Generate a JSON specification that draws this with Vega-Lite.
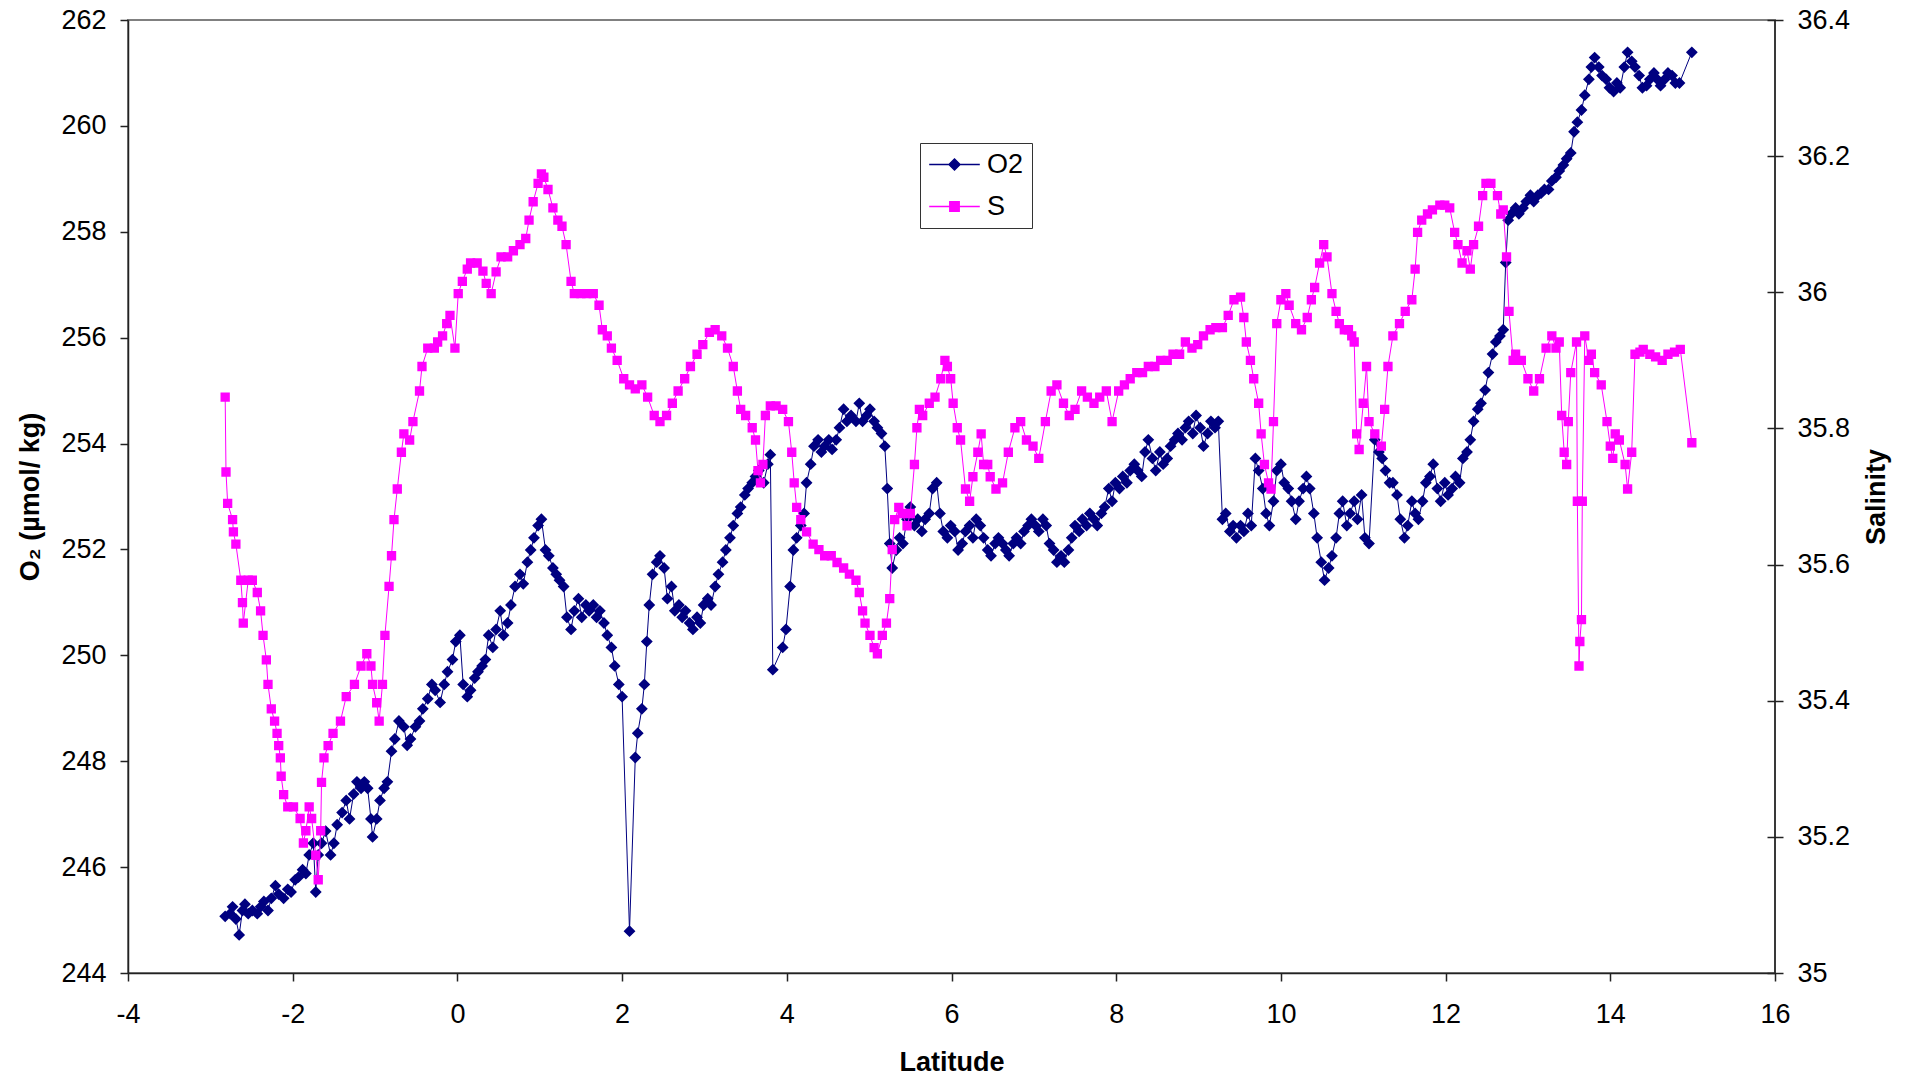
{
"$schema": "https://vega.github.io/schema/vega-lite/v6.json",
"width": 1647, "height": 953,
"autosize": {"type": "none"},
"padding": {"left": 128, "top": 20, "right": 141, "bottom": 107},
"background": "white",
"config": {
 "font": "Liberation Sans",
 "view": {"stroke": "#808080", "strokeWidth": 2},
 "axis": {"domainColor": "#222", "domainWidth": 1.5, "tickColor": "#222", "tickWidth": 1.5, "tickSize": 8, "labelFontSize": 27, "labelColor": "#000", "titleFontSize": 27, "titleFontWeight": "bold", "titleColor": "#000", "grid": false, "labelFont": "Liberation Sans", "titleFont": "Liberation Sans", "labelOverlap": false, "labelFlush": false},
 "legend": {"orient": "none", "legendX": 792, "legendY": 123, "direction": "vertical", "labelFontSize": 27, "labelFont": "Liberation Sans", "labelColor": "#000", "symbolSize": 121, "symbolOffset": 13, "labelOffset": 19, "rowPadding": 14, "padding": 8, "strokeColor": "#333", "fillColor": "#ffffff", "symbolOpacity": 1, "symbolStrokeWidth": 1.5}
},
"datasets": {
"o2": [
{"lat":-2.82,"v":245.07},{"lat":-2.76,"v":245.12},{"lat":-2.73,"v":245.25},{"lat":-2.69,"v":245.02},{"lat":-2.65,"v":244.72},{"lat":-2.61,"v":245.18},{"lat":-2.58,"v":245.30},{"lat":-2.54,"v":245.12},{"lat":-2.49,"v":245.18},{"lat":-2.43,"v":245.12},{"lat":-2.39,"v":245.25},{"lat":-2.35,"v":245.35},{"lat":-2.30,"v":245.18},{"lat":-2.26,"v":245.41},{"lat":-2.21,"v":245.65},{"lat":-2.17,"v":245.49},{"lat":-2.11,"v":245.41},{"lat":-2.06,"v":245.58},{"lat":-2.02,"v":245.53},{"lat":-1.97,"v":245.76},{"lat":-1.93,"v":245.81},{"lat":-1.88,"v":245.95},{"lat":-1.84,"v":245.88},{"lat":-1.80,"v":246.23},{"lat":-1.75,"v":246.45},{"lat":-1.72,"v":245.53},{"lat":-1.69,"v":246.23},{"lat":-1.65,"v":246.45},{"lat":-1.60,"v":246.68},{"lat":-1.54,"v":246.23},{"lat":-1.50,"v":246.45},{"lat":-1.46,"v":246.80},{"lat":-1.40,"v":247.03},{"lat":-1.35,"v":247.26},{"lat":-1.31,"v":246.91},{"lat":-1.26,"v":247.38},{"lat":-1.22,"v":247.61},{"lat":-1.17,"v":247.49},{"lat":-1.13,"v":247.61},{"lat":-1.09,"v":247.49},{"lat":-1.05,"v":246.91},{"lat":-1.03,"v":246.57},{"lat":-0.98,"v":246.91},{"lat":-0.94,"v":247.26},{"lat":-0.89,"v":247.49},{"lat":-0.85,"v":247.61},{"lat":-0.80,"v":248.19},{"lat":-0.76,"v":248.42},{"lat":-0.71,"v":248.76},{"lat":-0.65,"v":248.65},{"lat":-0.61,"v":248.30},{"lat":-0.57,"v":248.42},{"lat":-0.51,"v":248.65},{"lat":-0.46,"v":248.76},{"lat":-0.42,"v":248.99},{"lat":-0.36,"v":249.18},{"lat":-0.31,"v":249.45},{"lat":-0.27,"v":249.34},{"lat":-0.21,"v":249.11},{"lat":-0.16,"v":249.45},{"lat":-0.12,"v":249.69},{"lat":-0.06,"v":249.92},{"lat":-0.02,"v":250.26},{"lat":0.03,"v":250.38},{"lat":0.07,"v":249.45},{"lat":0.12,"v":249.22},{"lat":0.16,"v":249.34},{"lat":0.21,"v":249.57},{"lat":0.25,"v":249.69},{"lat":0.30,"v":249.80},{"lat":0.34,"v":249.92},{"lat":0.38,"v":250.38},{"lat":0.43,"v":250.15},{"lat":0.47,"v":250.49},{"lat":0.52,"v":250.84},{"lat":0.56,"v":250.38},{"lat":0.61,"v":250.61},{"lat":0.65,"v":250.95},{"lat":0.70,"v":251.30},{"lat":0.76,"v":251.53},{"lat":0.80,"v":251.35},{"lat":0.85,"v":251.76},{"lat":0.89,"v":251.99},{"lat":0.93,"v":252.22},{"lat":0.98,"v":252.45},{"lat":1.02,"v":252.57},{"lat":1.07,"v":251.99},{"lat":1.11,"v":251.88},{"lat":1.16,"v":251.65},{"lat":1.20,"v":251.53},{"lat":1.24,"v":251.42},{"lat":1.29,"v":251.30},{"lat":1.33,"v":250.72},{"lat":1.38,"v":250.49},{"lat":1.42,"v":250.84},{"lat":1.47,"v":251.07},{"lat":1.51,"v":250.72},{"lat":1.56,"v":250.95},{"lat":1.60,"v":250.84},{"lat":1.65,"v":250.95},{"lat":1.69,"v":250.72},{"lat":1.73,"v":250.84},{"lat":1.78,"v":250.61},{"lat":1.82,"v":250.38},{"lat":1.87,"v":250.15},{"lat":1.91,"v":249.80},{"lat":1.96,"v":249.45},{"lat":2.00,"v":249.22},{"lat":2.09,"v":244.79},{"lat":2.16,"v":248.07},{"lat":2.19,"v":248.53},{"lat":2.24,"v":248.99},{"lat":2.27,"v":249.45},{"lat":2.30,"v":250.26},{"lat":2.33,"v":250.95},{"lat":2.37,"v":251.53},{"lat":2.42,"v":251.76},{"lat":2.46,"v":251.88},{"lat":2.51,"v":251.65},{"lat":2.55,"v":251.07},{"lat":2.60,"v":251.30},{"lat":2.64,"v":250.84},{"lat":2.69,"v":250.95},{"lat":2.73,"v":250.72},{"lat":2.77,"v":250.84},{"lat":2.82,"v":250.61},{"lat":2.86,"v":250.49},{"lat":2.91,"v":250.72},{"lat":2.95,"v":250.61},{"lat":2.99,"v":250.95},{"lat":3.04,"v":251.07},{"lat":3.08,"v":250.95},{"lat":3.13,"v":251.30},{"lat":3.17,"v":251.53},{"lat":3.22,"v":251.76},{"lat":3.26,"v":251.99},{"lat":3.31,"v":252.22},{"lat":3.35,"v":252.45},{"lat":3.40,"v":252.68},{"lat":3.44,"v":252.80},{"lat":3.49,"v":253.03},{"lat":3.53,"v":253.15},{"lat":3.58,"v":253.26},{"lat":3.62,"v":253.38},{"lat":3.66,"v":253.49},{"lat":3.72,"v":253.26},{"lat":3.77,"v":253.61},{"lat":3.80,"v":253.79},{"lat":3.83,"v":249.73},{"lat":3.95,"v":250.15},{"lat":3.99,"v":250.49},{"lat":4.04,"v":251.30},{"lat":4.08,"v":251.99},{"lat":4.12,"v":252.22},{"lat":4.17,"v":252.45},{"lat":4.21,"v":252.68},{"lat":4.24,"v":253.26},{"lat":4.29,"v":253.61},{"lat":4.33,"v":253.95},{"lat":4.38,"v":254.07},{"lat":4.42,"v":253.84},{"lat":4.46,"v":253.95},{"lat":4.51,"v":254.07},{"lat":4.55,"v":253.89},{"lat":4.60,"v":254.07},{"lat":4.64,"v":254.30},{"lat":4.69,"v":254.65},{"lat":4.73,"v":254.42},{"lat":4.78,"v":254.53},{"lat":4.84,"v":254.42},{"lat":4.88,"v":254.76},{"lat":4.92,"v":254.42},{"lat":4.97,"v":254.53},{"lat":5.01,"v":254.65},{"lat":5.06,"v":254.42},{"lat":5.10,"v":254.30},{"lat":5.15,"v":254.19},{"lat":5.19,"v":253.95},{"lat":5.22,"v":253.15},{"lat":5.25,"v":252.11},{"lat":5.28,"v":251.65},{"lat":5.33,"v":251.99},{"lat":5.37,"v":252.22},{"lat":5.41,"v":252.11},{"lat":5.46,"v":252.57},{"lat":5.50,"v":252.80},{"lat":5.55,"v":252.45},{"lat":5.59,"v":252.57},{"lat":5.64,"v":252.34},{"lat":5.68,"v":252.57},{"lat":5.73,"v":252.68},{"lat":5.77,"v":253.15},{"lat":5.82,"v":253.26},{"lat":5.86,"v":252.68},{"lat":5.90,"v":252.34},{"lat":5.95,"v":252.22},{"lat":5.99,"v":252.45},{"lat":6.04,"v":252.34},{"lat":6.08,"v":251.99},{"lat":6.13,"v":252.11},{"lat":6.17,"v":252.34},{"lat":6.22,"v":252.45},{"lat":6.26,"v":252.22},{"lat":6.30,"v":252.57},{"lat":6.35,"v":252.45},{"lat":6.39,"v":252.22},{"lat":6.44,"v":251.99},{"lat":6.48,"v":251.88},{"lat":6.53,"v":252.11},{"lat":6.57,"v":252.22},{"lat":6.62,"v":252.11},{"lat":6.66,"v":251.99},{"lat":6.70,"v":251.88},{"lat":6.75,"v":252.11},{"lat":6.79,"v":252.22},{"lat":6.84,"v":252.11},{"lat":6.88,"v":252.34},{"lat":6.93,"v":252.45},{"lat":6.97,"v":252.57},{"lat":7.02,"v":252.45},{"lat":7.06,"v":252.34},{"lat":7.11,"v":252.57},{"lat":7.15,"v":252.45},{"lat":7.19,"v":252.11},{"lat":7.24,"v":251.99},{"lat":7.28,"v":251.76},{"lat":7.33,"v":251.88},{"lat":7.37,"v":251.76},{"lat":7.42,"v":251.99},{"lat":7.46,"v":252.22},{"lat":7.50,"v":252.45},{"lat":7.55,"v":252.34},{"lat":7.59,"v":252.57},{"lat":7.64,"v":252.45},{"lat":7.68,"v":252.68},{"lat":7.73,"v":252.57},{"lat":7.77,"v":252.45},{"lat":7.82,"v":252.68},{"lat":7.86,"v":252.80},{"lat":7.91,"v":253.15},{"lat":7.95,"v":252.91},{"lat":7.99,"v":253.26},{"lat":8.04,"v":253.15},{"lat":8.08,"v":253.38},{"lat":8.13,"v":253.26},{"lat":8.17,"v":253.49},{"lat":8.22,"v":253.61},{"lat":8.26,"v":253.49},{"lat":8.31,"v":253.38},{"lat":8.35,"v":253.84},{"lat":8.39,"v":254.07},{"lat":8.44,"v":253.72},{"lat":8.48,"v":253.49},{"lat":8.53,"v":253.84},{"lat":8.57,"v":253.61},{"lat":8.62,"v":253.72},{"lat":8.66,"v":253.95},{"lat":8.71,"v":254.07},{"lat":8.75,"v":254.19},{"lat":8.80,"v":254.07},{"lat":8.84,"v":254.30},{"lat":8.88,"v":254.42},{"lat":8.93,"v":254.19},{"lat":8.97,"v":254.53},{"lat":9.02,"v":254.30},{"lat":9.06,"v":253.95},{"lat":9.11,"v":254.19},{"lat":9.15,"v":254.42},{"lat":9.20,"v":254.30},{"lat":9.24,"v":254.42},{"lat":9.29,"v":252.57},{"lat":9.33,"v":252.68},{"lat":9.38,"v":252.34},{"lat":9.42,"v":252.45},{"lat":9.46,"v":252.22},{"lat":9.51,"v":252.45},{"lat":9.55,"v":252.34},{"lat":9.60,"v":252.68},{"lat":9.64,"v":252.45},{"lat":9.69,"v":253.72},{"lat":9.73,"v":253.49},{"lat":9.78,"v":253.15},{"lat":9.82,"v":252.68},{"lat":9.86,"v":252.45},{"lat":9.91,"v":252.91},{"lat":9.95,"v":253.49},{"lat":10.00,"v":253.61},{"lat":10.04,"v":253.26},{"lat":10.09,"v":253.15},{"lat":10.13,"v":252.91},{"lat":10.18,"v":252.57},{"lat":10.22,"v":252.91},{"lat":10.27,"v":253.15},{"lat":10.31,"v":253.38},{"lat":10.35,"v":253.15},{"lat":10.40,"v":252.68},{"lat":10.44,"v":252.22},{"lat":10.49,"v":251.76},{"lat":10.53,"v":251.42},{"lat":10.58,"v":251.65},{"lat":10.62,"v":251.88},{"lat":10.67,"v":252.22},{"lat":10.71,"v":252.68},{"lat":10.75,"v":252.91},{"lat":10.80,"v":252.45},{"lat":10.84,"v":252.68},{"lat":10.89,"v":252.91},{"lat":10.93,"v":252.57},{"lat":10.98,"v":253.03},{"lat":11.02,"v":252.22},{"lat":11.07,"v":252.11},{"lat":11.14,"v":254.07},{"lat":11.19,"v":253.84},{"lat":11.23,"v":253.72},{"lat":11.27,"v":253.49},{"lat":11.32,"v":253.26},{"lat":11.36,"v":253.26},{"lat":11.41,"v":253.03},{"lat":11.45,"v":252.57},{"lat":11.50,"v":252.22},{"lat":11.54,"v":252.45},{"lat":11.59,"v":252.91},{"lat":11.63,"v":252.68},{"lat":11.67,"v":252.57},{"lat":11.72,"v":252.91},{"lat":11.76,"v":253.26},{"lat":11.81,"v":253.38},{"lat":11.85,"v":253.61},{"lat":11.90,"v":253.15},{"lat":11.94,"v":252.91},{"lat":11.99,"v":253.26},{"lat":12.03,"v":253.03},{"lat":12.08,"v":253.15},{"lat":12.12,"v":253.38},{"lat":12.17,"v":253.26},{"lat":12.21,"v":253.72},{"lat":12.26,"v":253.84},{"lat":12.30,"v":254.07},{"lat":12.34,"v":254.42},{"lat":12.39,"v":254.65},{"lat":12.43,"v":254.76},{"lat":12.48,"v":255.01},{"lat":12.52,"v":255.34},{"lat":12.57,"v":255.69},{"lat":12.61,"v":255.92},{"lat":12.66,"v":256.03},{"lat":12.70,"v":256.15},{"lat":12.73,"v":257.42},{"lat":12.76,"v":258.22},{"lat":12.80,"v":258.34},{"lat":12.85,"v":258.45},{"lat":12.89,"v":258.34},{"lat":12.94,"v":258.45},{"lat":12.98,"v":258.57},{"lat":13.03,"v":258.69},{"lat":13.07,"v":258.57},{"lat":13.12,"v":258.69},{"lat":13.16,"v":258.73},{"lat":13.20,"v":258.80},{"lat":13.25,"v":258.80},{"lat":13.29,"v":258.96},{"lat":13.34,"v":259.03},{"lat":13.38,"v":259.15},{"lat":13.43,"v":259.26},{"lat":13.47,"v":259.38},{"lat":13.52,"v":259.49},{"lat":13.56,"v":259.89},{"lat":13.60,"v":260.07},{"lat":13.65,"v":260.30},{"lat":13.69,"v":260.58},{"lat":13.74,"v":260.88},{"lat":13.77,"v":261.11},{"lat":13.81,"v":261.29},{"lat":13.86,"v":261.11},{"lat":13.90,"v":260.95},{"lat":13.95,"v":260.88},{"lat":13.99,"v":260.72},{"lat":14.04,"v":260.65},{"lat":14.08,"v":260.81},{"lat":14.12,"v":260.72},{"lat":14.17,"v":261.11},{"lat":14.21,"v":261.39},{"lat":14.26,"v":261.22},{"lat":14.30,"v":261.11},{"lat":14.35,"v":260.95},{"lat":14.39,"v":260.72},{"lat":14.44,"v":260.76},{"lat":14.48,"v":260.88},{"lat":14.53,"v":261.00},{"lat":14.57,"v":260.88},{"lat":14.61,"v":260.76},{"lat":14.66,"v":260.88},{"lat":14.70,"v":261.00},{"lat":14.75,"v":260.95},{"lat":14.79,"v":260.81},{"lat":14.84,"v":260.81},{"lat":14.99,"v":261.39}
],
"sal": [
{"lat":-2.82,"v":35.846},{"lat":-2.81,"v":35.736},{"lat":-2.79,"v":35.690},{"lat":-2.73,"v":35.666},{"lat":-2.72,"v":35.648},{"lat":-2.69,"v":35.630},{"lat":-2.63,"v":35.577},{"lat":-2.61,"v":35.544},{"lat":-2.60,"v":35.514},{"lat":-2.54,"v":35.577},{"lat":-2.49,"v":35.577},{"lat":-2.43,"v":35.559},{"lat":-2.39,"v":35.532},{"lat":-2.36,"v":35.496},{"lat":-2.32,"v":35.460},{"lat":-2.30,"v":35.424},{"lat":-2.26,"v":35.388},{"lat":-2.22,"v":35.370},{"lat":-2.19,"v":35.352},{"lat":-2.17,"v":35.334},{"lat":-2.15,"v":35.316},{"lat":-2.14,"v":35.289},{"lat":-2.11,"v":35.262},{"lat":-2.06,"v":35.244},{"lat":-1.99,"v":35.244},{"lat":-1.91,"v":35.227},{"lat":-1.87,"v":35.191},{"lat":-1.84,"v":35.209},{"lat":-1.80,"v":35.244},{"lat":-1.77,"v":35.227},{"lat":-1.72,"v":35.173},{"lat":-1.69,"v":35.137},{"lat":-1.66,"v":35.209},{"lat":-1.65,"v":35.280},{"lat":-1.62,"v":35.316},{"lat":-1.57,"v":35.334},{"lat":-1.51,"v":35.352},{"lat":-1.42,"v":35.370},{"lat":-1.35,"v":35.406},{"lat":-1.25,"v":35.424},{"lat":-1.17,"v":35.451},{"lat":-1.10,"v":35.469},{"lat":-1.05,"v":35.451},{"lat":-1.03,"v":35.424},{"lat":-0.98,"v":35.397},{"lat":-0.95,"v":35.370},{"lat":-0.91,"v":35.424},{"lat":-0.88,"v":35.496},{"lat":-0.83,"v":35.568},{"lat":-0.80,"v":35.613},{"lat":-0.77,"v":35.666},{"lat":-0.73,"v":35.711},{"lat":-0.68,"v":35.765},{"lat":-0.65,"v":35.792},{"lat":-0.58,"v":35.783},{"lat":-0.54,"v":35.810},{"lat":-0.46,"v":35.855},{"lat":-0.43,"v":35.891},{"lat":-0.36,"v":35.918},{"lat":-0.28,"v":35.918},{"lat":-0.24,"v":35.927},{"lat":-0.18,"v":35.936},{"lat":-0.13,"v":35.954},{"lat":-0.09,"v":35.966},{"lat":-0.03,"v":35.918},{"lat":0.01,"v":35.998},{"lat":0.06,"v":36.016},{"lat":0.12,"v":36.034},{"lat":0.16,"v":36.043},{"lat":0.24,"v":36.043},{"lat":0.31,"v":36.031},{"lat":0.35,"v":36.013},{"lat":0.41,"v":35.998},{"lat":0.47,"v":36.030},{"lat":0.53,"v":36.052},{"lat":0.61,"v":36.052},{"lat":0.68,"v":36.061},{"lat":0.76,"v":36.070},{"lat":0.83,"v":36.079},{"lat":0.87,"v":36.106},{"lat":0.92,"v":36.133},{"lat":0.98,"v":36.160},{"lat":1.02,"v":36.174},{"lat":1.05,"v":36.169},{"lat":1.10,"v":36.151},{"lat":1.16,"v":36.124},{"lat":1.22,"v":36.106},{"lat":1.27,"v":36.097},{"lat":1.32,"v":36.070},{"lat":1.38,"v":36.016},{"lat":1.42,"v":35.998},{"lat":1.50,"v":35.998},{"lat":1.57,"v":35.998},{"lat":1.65,"v":35.998},{"lat":1.72,"v":35.981},{"lat":1.76,"v":35.945},{"lat":1.82,"v":35.936},{"lat":1.87,"v":35.918},{"lat":1.94,"v":35.900},{"lat":2.02,"v":35.873},{"lat":2.09,"v":35.864},{"lat":2.16,"v":35.858},{"lat":2.24,"v":35.864},{"lat":2.31,"v":35.846},{"lat":2.39,"v":35.819},{"lat":2.46,"v":35.810},{"lat":2.54,"v":35.819},{"lat":2.61,"v":35.837},{"lat":2.68,"v":35.855},{"lat":2.76,"v":35.873},{"lat":2.83,"v":35.891},{"lat":2.91,"v":35.909},{"lat":2.98,"v":35.923},{"lat":3.06,"v":35.941},{"lat":3.13,"v":35.945},{"lat":3.21,"v":35.936},{"lat":3.28,"v":35.918},{"lat":3.35,"v":35.891},{"lat":3.40,"v":35.855},{"lat":3.44,"v":35.828},{"lat":3.50,"v":35.819},{"lat":3.58,"v":35.801},{"lat":3.62,"v":35.783},{"lat":3.65,"v":35.738},{"lat":3.68,"v":35.720},{"lat":3.71,"v":35.747},{"lat":3.74,"v":35.819},{"lat":3.80,"v":35.833},{"lat":3.87,"v":35.833},{"lat":3.95,"v":35.828},{"lat":4.02,"v":35.810},{"lat":4.06,"v":35.765},{"lat":4.09,"v":35.720},{"lat":4.12,"v":35.684},{"lat":4.17,"v":35.666},{"lat":4.24,"v":35.648},{"lat":4.32,"v":35.630},{"lat":4.39,"v":35.622},{"lat":4.46,"v":35.613},{"lat":4.54,"v":35.613},{"lat":4.61,"v":35.603},{"lat":4.69,"v":35.595},{"lat":4.76,"v":35.586},{"lat":4.84,"v":35.577},{"lat":4.88,"v":35.559},{"lat":4.92,"v":35.532},{"lat":4.95,"v":35.514},{"lat":5.01,"v":35.496},{"lat":5.06,"v":35.478},{"lat":5.10,"v":35.469},{"lat":5.16,"v":35.496},{"lat":5.21,"v":35.514},{"lat":5.25,"v":35.550},{"lat":5.28,"v":35.622},{"lat":5.31,"v":35.666},{"lat":5.36,"v":35.684},{"lat":5.40,"v":35.675},{"lat":5.46,"v":35.657},{"lat":5.50,"v":35.675},{"lat":5.55,"v":35.747},{"lat":5.58,"v":35.801},{"lat":5.61,"v":35.828},{"lat":5.65,"v":35.819},{"lat":5.73,"v":35.837},{"lat":5.80,"v":35.846},{"lat":5.87,"v":35.873},{"lat":5.92,"v":35.900},{"lat":5.95,"v":35.891},{"lat":5.99,"v":35.873},{"lat":6.02,"v":35.837},{"lat":6.07,"v":35.801},{"lat":6.11,"v":35.783},{"lat":6.17,"v":35.711},{"lat":6.22,"v":35.693},{"lat":6.26,"v":35.729},{"lat":6.32,"v":35.765},{"lat":6.36,"v":35.792},{"lat":6.39,"v":35.747},{"lat":6.44,"v":35.747},{"lat":6.47,"v":35.729},{"lat":6.54,"v":35.711},{"lat":6.62,"v":35.720},{"lat":6.69,"v":35.765},{"lat":6.77,"v":35.801},{"lat":6.84,"v":35.810},{"lat":6.91,"v":35.783},{"lat":6.99,"v":35.774},{"lat":7.06,"v":35.756},{"lat":7.14,"v":35.810},{"lat":7.21,"v":35.855},{"lat":7.28,"v":35.864},{"lat":7.36,"v":35.837},{"lat":7.43,"v":35.819},{"lat":7.50,"v":35.828},{"lat":7.58,"v":35.855},{"lat":7.65,"v":35.846},{"lat":7.73,"v":35.837},{"lat":7.80,"v":35.846},{"lat":7.88,"v":35.855},{"lat":7.95,"v":35.810},{"lat":8.03,"v":35.855},{"lat":8.10,"v":35.864},{"lat":8.17,"v":35.873},{"lat":8.25,"v":35.882},{"lat":8.32,"v":35.882},{"lat":8.39,"v":35.891},{"lat":8.47,"v":35.891},{"lat":8.54,"v":35.900},{"lat":8.62,"v":35.900},{"lat":8.69,"v":35.909},{"lat":8.77,"v":35.909},{"lat":8.84,"v":35.927},{"lat":8.92,"v":35.918},{"lat":8.99,"v":35.923},{"lat":9.06,"v":35.936},{"lat":9.14,"v":35.945},{"lat":9.21,"v":35.948},{"lat":9.29,"v":35.948},{"lat":9.36,"v":35.966},{"lat":9.43,"v":35.989},{"lat":9.51,"v":35.993},{"lat":9.55,"v":35.963},{"lat":9.58,"v":35.927},{"lat":9.63,"v":35.900},{"lat":9.67,"v":35.873},{"lat":9.73,"v":35.837},{"lat":9.76,"v":35.792},{"lat":9.80,"v":35.747},{"lat":9.85,"v":35.720},{"lat":9.88,"v":35.711},{"lat":9.91,"v":35.810},{"lat":9.95,"v":35.954},{"lat":10.00,"v":35.989},{"lat":10.06,"v":35.998},{"lat":10.10,"v":35.981},{"lat":10.18,"v":35.954},{"lat":10.25,"v":35.945},{"lat":10.32,"v":35.963},{"lat":10.37,"v":35.989},{"lat":10.41,"v":36.007},{"lat":10.47,"v":36.043},{"lat":10.52,"v":36.070},{"lat":10.56,"v":36.052},{"lat":10.62,"v":35.998},{"lat":10.67,"v":35.972},{"lat":10.71,"v":35.954},{"lat":10.77,"v":35.945},{"lat":10.82,"v":35.945},{"lat":10.86,"v":35.936},{"lat":10.89,"v":35.927},{"lat":10.92,"v":35.792},{"lat":10.95,"v":35.769},{"lat":11.00,"v":35.837},{"lat":11.04,"v":35.891},{"lat":11.07,"v":35.810},{"lat":11.14,"v":35.792},{"lat":11.22,"v":35.774},{"lat":11.26,"v":35.828},{"lat":11.30,"v":35.891},{"lat":11.36,"v":35.936},{"lat":11.44,"v":35.954},{"lat":11.51,"v":35.972},{"lat":11.59,"v":35.989},{"lat":11.63,"v":36.034},{"lat":11.66,"v":36.088},{"lat":11.71,"v":36.106},{"lat":11.78,"v":36.115},{"lat":11.84,"v":36.121},{"lat":11.93,"v":36.128},{"lat":11.99,"v":36.128},{"lat":12.05,"v":36.124},{"lat":12.11,"v":36.088},{"lat":12.15,"v":36.070},{"lat":12.20,"v":36.043},{"lat":12.26,"v":36.061},{"lat":12.30,"v":36.034},{"lat":12.34,"v":36.070},{"lat":12.40,"v":36.097},{"lat":12.45,"v":36.142},{"lat":12.49,"v":36.160},{"lat":12.55,"v":36.160},{"lat":12.63,"v":36.142},{"lat":12.67,"v":36.115},{"lat":12.70,"v":36.121},{"lat":12.74,"v":36.052},{"lat":12.77,"v":35.972},{"lat":12.82,"v":35.900},{"lat":12.85,"v":35.909},{"lat":12.92,"v":35.900},{"lat":13.00,"v":35.873},{"lat":13.07,"v":35.855},{"lat":13.14,"v":35.873},{"lat":13.22,"v":35.918},{"lat":13.29,"v":35.936},{"lat":13.34,"v":35.918},{"lat":13.38,"v":35.927},{"lat":13.41,"v":35.819},{"lat":13.44,"v":35.765},{"lat":13.47,"v":35.747},{"lat":13.49,"v":35.810},{"lat":13.52,"v":35.882},{"lat":13.59,"v":35.927},{"lat":13.60,"v":35.693},{"lat":13.62,"v":35.451},{"lat":13.63,"v":35.487},{"lat":13.65,"v":35.519},{"lat":13.66,"v":35.693},{"lat":13.69,"v":35.936},{"lat":13.74,"v":35.900},{"lat":13.77,"v":35.909},{"lat":13.81,"v":35.882},{"lat":13.89,"v":35.864},{"lat":13.96,"v":35.810},{"lat":14.00,"v":35.774},{"lat":14.03,"v":35.756},{"lat":14.06,"v":35.792},{"lat":14.11,"v":35.783},{"lat":14.18,"v":35.747},{"lat":14.21,"v":35.711},{"lat":14.26,"v":35.765},{"lat":14.30,"v":35.909},{"lat":14.36,"v":35.912},{"lat":14.40,"v":35.916},{"lat":14.48,"v":35.909},{"lat":14.55,"v":35.905},{"lat":14.63,"v":35.900},{"lat":14.70,"v":35.909},{"lat":14.78,"v":35.912},{"lat":14.85,"v":35.916},{"lat":14.99,"v":35.779}
]
},
"layer": [
 {
  "data": {"name": "o2"},
  "encoding": {
   "x": {"field": "lat", "type": "quantitative", "sort": null, "scale": {"domain": [-4, 16], "nice": false, "zero": false},
     "axis": {"title": "Latitude", "values": [-4,-2,0,2,4,6,8,10,12,14,16], "labelExpr": "'' + datum.value", "labelPadding": 20, "titlePadding": 22}},
   "y": {"field": "v", "type": "quantitative", "scale": {"domain": [244, 262], "nice": false, "zero": false},
     "axis": {"orient": "left", "title": "O₂ (µmol/ kg)", "values": [244,246,248,250,252,254,256,258,260,262], "labelPadding": 14, "titlePadding": 16}}
  },
  "layer": [
   {"mark": {"type": "line", "strokeWidth": 1},
    "encoding": {"stroke": {"datum": "O2", "type": "nominal", "scale": {"domain": ["O2", "S"], "range": ["#000080", "#FF00FF"]}, "legend": {"title": null}}}},
   {"mark": {"type": "point", "filled": true, "size": 140, "opacity": 1},
    "encoding": {
     "color": {"datum": "O2", "type": "nominal", "scale": {"domain": ["O2", "S"], "range": ["#000080", "#FF00FF"]}, "legend": {"title": null}},
     "shape": {"datum": "O2", "type": "nominal", "scale": {"domain": ["O2", "S"], "range": ["M-4.6,0H4.6M0,-1L1,0L0,1L-1,0Z", "M-4.6,0H4.6M-0.85,-0.85H0.85V0.85H-0.85Z"]}, "legend": {"title": null}}}}
  ]
 },
 {
  "data": {"name": "sal"},
  "encoding": {
   "x": {"field": "lat", "type": "quantitative", "sort": null},
   "y": {"field": "v", "type": "quantitative", "scale": {"domain": [35, 36.4], "nice": false, "zero": false},
     "axis": {"orient": "right", "title": "Salinity", "titleAngle": -90, "titleBaseline": "top", "values": [35,35.2,35.4,35.6,35.8,36,36.2,36.4], "labelExpr": "'' + datum.value", "offset": -8, "tickSize": 16, "domain": false, "labelPadding": 14, "titlePadding": 14}}
  },
  "layer": [
   {"mark": {"type": "line", "strokeWidth": 1},
    "encoding": {"stroke": {"datum": "S", "type": "nominal"}}},
   {"mark": {"type": "point", "filled": true, "size": 120, "opacity": 1},
    "encoding": {"color": {"datum": "S", "type": "nominal"}, "shape": {"datum": "S", "type": "nominal"}}}
  ]
 },
 {
  "data": {"values": [{"edge": 16}]},
  "mark": {"type": "rule", "color": "#222", "strokeWidth": 1.5},
  "encoding": {"x": {"field": "edge", "type": "quantitative"}}
 }
],
"resolve": {"scale": {"y": "independent"}}
}
